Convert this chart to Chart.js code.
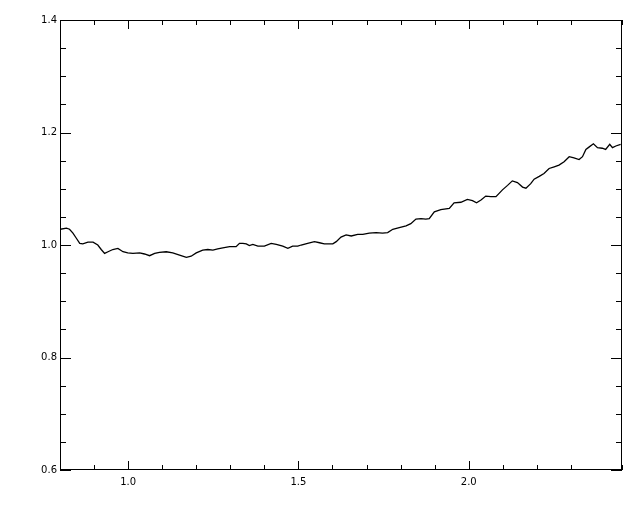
<!DOCTYPE html>
<html>
<head>
<meta charset="utf-8">
<script src="https://cdn.jsdelivr.net/npm/chart.js@4"></script>
<style>
  html, body { margin: 0; padding: 0; background: #fff; }
  #wrap { width: 640px; height: 512px; }
</style>
</head>
<body>
<div id="wrap"><canvas id="plot" width="640" height="512"></canvas></div>
<script>
// values
const xValues = [
  0.801, 0.819, 0.828, 0.838, 0.848, 0.858, 0.867, 0.882, 0.897, 0.911,
  0.921, 0.931, 0.941, 0.955, 0.970, 0.985, 0.999, 1.014, 1.034, 1.048,
  1.063, 1.078, 1.092, 1.112, 1.131, 1.151, 1.171, 1.185, 1.200, 1.219,
  1.234, 1.249, 1.263, 1.278, 1.298, 1.317, 1.327, 1.337, 1.347, 1.356,
  1.366, 1.381, 1.400, 1.420, 1.435, 1.454, 1.469, 1.483, 1.498, 1.508,
  1.527, 1.547, 1.562, 1.576, 1.601, 1.611, 1.625, 1.640, 1.655, 1.674,
  1.689, 1.708, 1.728, 1.747, 1.762, 1.777, 1.796, 1.816, 1.830, 1.845,
  1.860, 1.874, 1.884, 1.899, 1.918, 1.943, 1.957, 1.977, 1.996, 2.011,
  2.023, 2.036, 2.050, 2.065, 2.080, 2.099, 2.114, 2.128, 2.143, 2.158,
  2.168, 2.182, 2.192, 2.207, 2.221, 2.236, 2.251, 2.265, 2.280, 2.295,
  2.309, 2.324, 2.334, 2.344, 2.353, 2.366, 2.378, 2.392, 2.402, 2.414,
  2.422, 2.432, 2.446
];
const yValues = [
  1.028, 1.030, 1.028, 1.021, 1.012, 1.003, 1.002, 1.005, 1.005, 1.000,
  0.992, 0.985, 0.988, 0.992, 0.994, 0.988, 0.986, 0.985, 0.986, 0.984,
  0.981, 0.985, 0.987, 0.988, 0.986, 0.982, 0.978, 0.980, 0.986, 0.991,
  0.992, 0.991, 0.993, 0.995, 0.997, 0.997, 1.003, 1.003, 1.002, 0.999,
  1.001, 0.998, 0.998, 1.003, 1.001, 0.998, 0.994, 0.998, 0.998, 1.000,
  1.003, 1.006, 1.004, 1.002, 1.002, 1.006, 1.014, 1.018, 1.016, 1.019,
  1.019, 1.021, 1.022, 1.021, 1.022, 1.028, 1.031, 1.034, 1.038, 1.046,
  1.047, 1.046, 1.047, 1.059, 1.063, 1.065, 1.075, 1.076, 1.081, 1.079,
  1.075, 1.080, 1.087, 1.086, 1.086, 1.098, 1.106, 1.114, 1.111, 1.103,
  1.101, 1.109, 1.117, 1.122, 1.127, 1.136, 1.139, 1.142, 1.148, 1.157,
  1.155, 1.152, 1.157, 1.170, 1.174, 1.180, 1.173, 1.172, 1.170, 1.179,
  1.173, 1.176, 1.179
];

const xRange = [0.8, 2.45];
const yRange = [0.6, 1.4];
const xStep = 0.1, xLabelEvery = 0.5;
const yStep = 0.05, yLabelEvery = 0.2;

const isMultiple = (v, m) => Math.abs(v / m - Math.round(v / m)) < 1e-6;

// box + inward tick marks on all four sides, IDL style
const boxTicks = {
  id: 'boxTicks',
  afterDraw(chart) {
    const { ctx, chartArea: a, scales } = chart;
    ctx.save();
    ctx.strokeStyle = '#000';
    ctx.lineWidth = 1;
    ctx.strokeRect(a.left + 0.5, a.top + 0.5, a.right - a.left - 1, a.bottom - a.top - 1);
    ctx.beginPath();
    scales.x.ticks.forEach(t => {
      const px = Math.round(scales.x.getPixelForValue(t.value)) + 0.5;
      const len = isMultiple(t.value, xLabelEvery) ? 9 : 5;
      ctx.moveTo(px, a.bottom); ctx.lineTo(px, a.bottom - len);
      ctx.moveTo(px, a.top); ctx.lineTo(px, a.top + len);
    });
    scales.y.ticks.forEach(t => {
      const py = Math.round(scales.y.getPixelForValue(t.value)) + 0.5;
      const len = isMultiple(t.value, yLabelEvery) ? 11 : 6;
      ctx.moveTo(a.left, py); ctx.lineTo(a.left + len, py);
      ctx.moveTo(a.right, py); ctx.lineTo(a.right - len, py);
    });
    ctx.stroke();
    ctx.restore();
  }
};

new Chart(document.getElementById('plot'), {
  type: 'scatter',
  data: {
    datasets: [{
      data: xValues.map((x, i) => ({ x: x, y: yValues[i] })),
      showLine: true,
      borderColor: '#000',
      borderWidth: 1.3,
      pointRadius: 0,
      tension: 0
    }]
  },
  options: {
    responsive: false,
    animation: false,
    layout: { padding: { top: 20, right: 18, left: 0, bottom: 0 } },
    plugins: { legend: { display: false }, tooltip: { enabled: false } },
    scales: {
      x: {
        type: 'linear',
        min: xRange[0], max: xRange[1],
        grid: { display: false, drawTicks: false },
        border: { display: false },
        afterFit: s => { s.height = 42; },
        ticks: {
          stepSize: xStep,
          autoSkip: false,
          maxRotation: 0,
          padding: 6,
          color: '#000',
          font: { family: 'DejaVu Sans', size: 10 },
          callback: v => isMultiple(v, xLabelEvery) && v > 0.85 ? v.toFixed(1) : ''
        }
      },
      y: {
        type: 'linear',
        min: yRange[0], max: yRange[1],
        grid: { display: false, drawTicks: false },
        border: { display: false },
        afterFit: s => { s.width = 60; },
        ticks: {
          stepSize: yStep,
          autoSkip: false,
          padding: 3,
          color: '#000',
          font: { family: 'DejaVu Sans', size: 10 },
          callback: v => isMultiple(v, yLabelEvery) ? v.toFixed(1) : ''
        }
      }
    }
  },
  plugins: [boxTicks]
});
</script>
</body>
</html>
